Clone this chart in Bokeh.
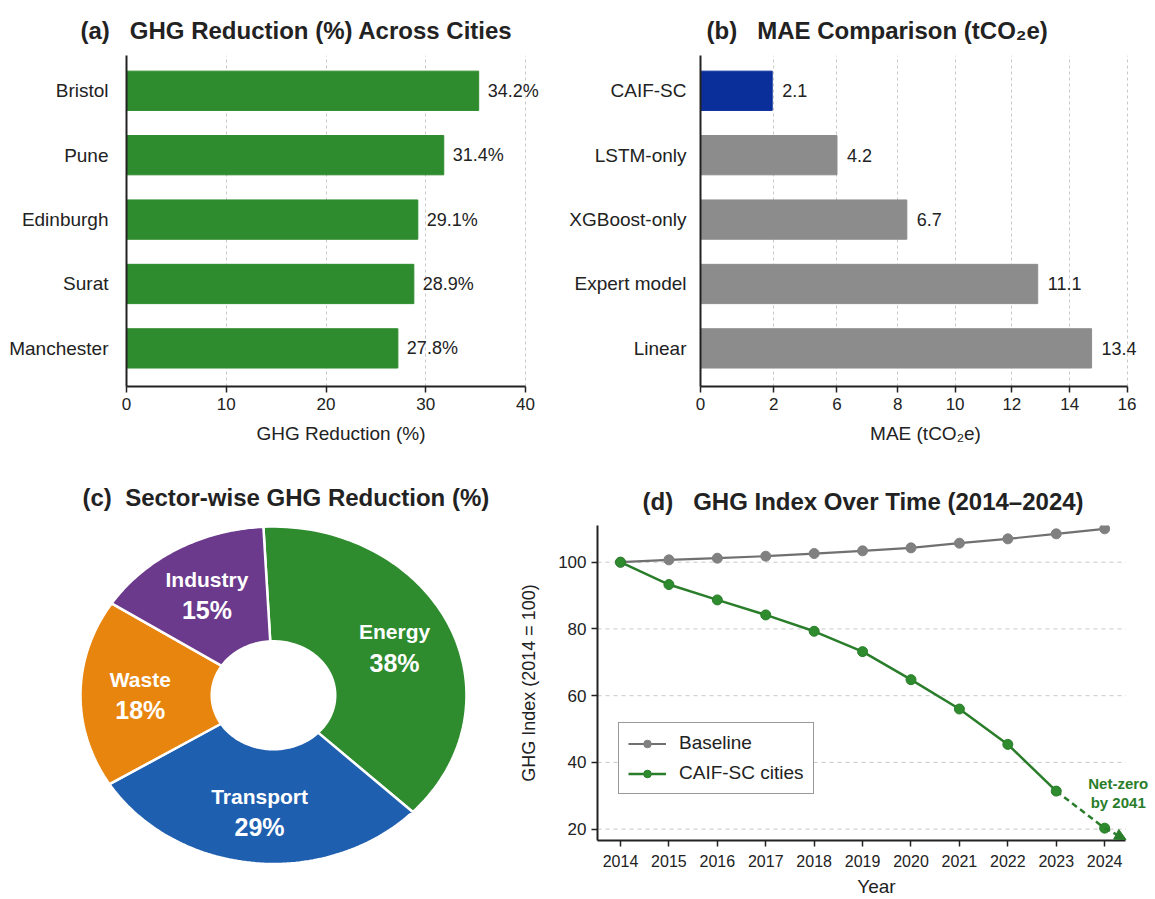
import numpy as np
from bokeh.plotting import figure
from bokeh.layouts import column, row
from bokeh.models import (ColumnDataSource, LabelSet, FixedTicker, Legend, LegendItem,
                          Arrow, NormalHead, Label)
from bokeh.core.properties import value
from bokeh.embed import file_html
from bokeh.resources import INLINE

FONT = "Liberation Sans"
DARK = "#222222"
GRID = "#c8c8c8"
NB = "\u00a0"

# ---------------- data ----------------
# (a) GHG reduction across cities
cities = ["Bristol", "Pune", "Edinburgh", "Surat", "Manchester"]
city_bar = [35.3, 31.8, 29.2, 28.8, 27.2]
city_label = ["34.2%", "31.4%", "29.1%", "28.9%", "27.8%"]
city_ticks = [0, 10, 20, 30, 40]

# (b) MAE comparison (bar ends and ticks as drawn on the original axis)
models = ["CAIF-SC", "LSTM-only", "XGBoost-only", "Expert model", "Linear"]
mae_bar = [2.69, 5.12, 7.74, 12.65, 14.67]
mae_label = ["2.1", "4.2", "6.7", "11.1", "13.4"]
mae_tick_pos = [0, 2.75, 5.12, 7.40, 9.55, 11.68, 13.85, 16]
mae_tick_label = ["0", "2", "6", "8", "10", "12", "14", "16"]
mae_colors = ["#0b2f9a", "#8c8c8c", "#8c8c8c", "#8c8c8c", "#8c8c8c"]

# (c) sector shares
sectors = ["Energy", "Transport", "Waste", "Industry"]
sector_share = [38, 29, 18, 15]
sector_colors = ["#2e8b2e", "#1f5fb0", "#e8850e", "#6b3a8c"]

# (d) GHG index over time
years = [2014, 2015, 2016, 2017, 2018, 2019, 2020, 2021, 2022, 2023, 2024]
baseline = [100, 100.7, 101.2, 101.8, 102.6, 103.4, 104.3, 105.7, 107.0, 108.5, 110.0]
caif = [100, 93.3, 88.7, 84.2, 79.3, 73.2, 64.8, 56.0, 45.4, 31.4, 20.3]
proj_end = (2024.44, 16.9)
index_ticks = [20, 40, 60, 80, 100]


def style_axes(p):
    p.outline_line_color = None
    p.background_fill_color = "white"
    p.border_fill_color = "white"
    for ax in p.axis:
        ax.axis_line_color = DARK
        ax.axis_line_width = 2
        ax.major_tick_line_color = DARK
        ax.major_tick_line_width = 1.5
        ax.major_tick_out = 6
        ax.major_tick_in = 0
        ax.minor_tick_line_color = None
        ax.major_label_text_font = FONT
        ax.major_label_text_color = DARK
        ax.major_label_text_font_size = "17px"
        ax.axis_label_text_font = FONT
        ax.axis_label_text_color = DARK
        ax.axis_label_text_font_size = "19px"
        ax.axis_label_text_font_style = "normal"


def style_title(p, offset, standoff):
    p.title.text_font = FONT
    p.title.text_font_size = "24px"
    p.title.text_font_style = "bold"
    p.title.text_color = DARK
    p.title.align = "left"
    p.title.offset = offset
    p.title.standoff = standoff


# ---------------- (a) ----------------
ya = [len(cities) - 1 - i for i in range(len(cities))]
src_a = ColumnDataSource(dict(y=ya, right=city_bar, lab=city_label))
pa = figure(width=560, height=460, x_range=(0, 43.0), y_range=(-0.592, 4.548),
            output_backend="svg", toolbar_location=None,
            title="(a)" + NB * 3 + "GHG Reduction (%) Across Cities",
            min_border_left=126, min_border_right=5, min_border_top=55, min_border_bottom=74)
pa.hbar(y="y", right="right", left=0, height=0.61, source=src_a,
        fill_color="#2e8b2e", line_color="#2e8b2e")
pa.add_layout(LabelSet(x="right", y="y", text="lab", source=src_a, x_offset=9,
                       text_baseline="middle", text_align="left", text_font=value(FONT),
                       text_font_size="18px", text_color=DARK))
pa.xaxis.ticker = FixedTicker(ticks=city_ticks)
pa.xaxis.bounds = (city_ticks[0], city_ticks[-1])
pa.yaxis.ticker = FixedTicker(ticks=ya)
pa.yaxis.major_label_overrides = {y: c for y, c in zip(ya, cities)}
pa.xaxis.axis_label = "GHG Reduction (%)"
style_axes(pa)
pa.yaxis.major_tick_line_color = None
pa.yaxis.major_label_text_font_size = "19px"
pa.yaxis.major_label_standoff = 12
pa.xaxis.axis_label_standoff = 10
pa.xgrid.grid_line_color = GRID
pa.xgrid.grid_line_dash = "3 3"
pa.ygrid.grid_line_color = None
style_title(pa, -46, 23)

# ---------------- (b) ----------------
yb = [len(models) - 1 - i for i in range(len(models))]
src_b = ColumnDataSource(dict(y=yb, right=mae_bar, lab=mae_label, color=mae_colors))
pb = figure(width=595, height=460, x_range=(0, 16.88), y_range=(-0.592, 4.548),
            output_backend="svg", toolbar_location=None,
            title="(b)" + NB * 3 + "MAE Comparison (tCO\u2082e)",
            min_border_left=140, min_border_right=5, min_border_top=55, min_border_bottom=73)
pb.hbar(y="y", right="right", left=0, height=0.61, source=src_b,
        fill_color="color", line_color="color")
pb.add_layout(LabelSet(x="right", y="y", text="lab", source=src_b, x_offset=10,
                       text_baseline="middle", text_align="left", text_font=value(FONT),
                       text_font_size="18px", text_color=DARK))
pb.xaxis.ticker = FixedTicker(ticks=mae_tick_pos)
pb.xaxis.bounds = (mae_tick_pos[0], mae_tick_pos[-1])
pb.xaxis.major_label_overrides = {t: l for t, l in zip(mae_tick_pos, mae_tick_label)}
pb.yaxis.ticker = FixedTicker(ticks=yb)
pb.yaxis.major_label_overrides = {y: m for y, m in zip(yb, models)}
pb.xaxis.axis_label = "MAE (tCO\u2082e)"
style_axes(pb)
pb.yaxis.major_tick_line_color = None
pb.yaxis.major_label_text_font_size = "19px"
pb.yaxis.major_label_standoff = 8
pb.xaxis.axis_label_standoff = 10
pb.xgrid.grid_line_color = GRID
pb.xgrid.grid_line_dash = "3 3"
pb.ygrid.grid_line_color = None
style_title(pb, 6, 23)

# ---------------- (c) ----------------
pc = figure(width=515, height=439, x_range=(-1.4145, 1.254), y_range=(-1.2105, 1.036),
            output_backend="svg", toolbar_location=None,
            title="(c)" + NB * 2 + "Sector-wise GHG Reduction (%)",
            x_axis_location=None, y_axis_location=None,
            min_border_left=0, min_border_right=0, min_border_top=60, min_border_bottom=0)
pc.grid.grid_line_color = None
pc.outline_line_color = None
R_OUT, R_IN, R_LAB = 1.0, 0.32, 0.69
start = np.deg2rad(93.0)
total = float(sum(sector_share))
xs, ys, lx, ly = [], [], [], []
a0 = start
for share in sector_share:
    a1 = a0 - 2 * np.pi * share / total
    th = np.linspace(a0, a1, 80)
    xs.append(list(np.concatenate([R_OUT * np.cos(th), R_IN * np.cos(th[::-1])])))
    ys.append(list(np.concatenate([R_OUT * np.sin(th), R_IN * np.sin(th[::-1])])))
    mid = (a0 + a1) / 2
    lx.append(R_LAB * np.cos(mid))
    ly.append(R_LAB * np.sin(mid))
    a0 = a1
pc.patches(xs, ys, fill_color=sector_colors, line_color="white", line_width=2.5)
src_c = ColumnDataSource(dict(x=lx, y=ly, name=sectors, pct=[f"{s}%" for s in sector_share]))
pc.text(x="x", y="y", text="name", source=src_c, y_offset=-15, text_align="center",
        text_baseline="middle", text_font=value(FONT), text_font_style="bold",
        text_font_size="21px", text_color="white")
pc.text(x="x", y="y", text="pct", source=src_c, y_offset=16, text_align="center",
        text_baseline="middle", text_font=value(FONT), text_font_style="bold",
        text_font_size="25px", text_color="white")
style_title(pc, 82, 20)

# ---------------- (d) ----------------
GREEN_L = "#2a7d2a"
GREEN_M = "#2e8b2e"
GRAY_L = "#707070"
GRAY_M = "#808080"
x_lo, x_hi = 2013.525, 2024.44
pd_ = figure(width=640, height=439, x_range=(x_lo, 2025.05), y_range=(16.6, 111),
             output_backend="svg", toolbar_location=None,
             title="(d)" + NB * 3 + "GHG Index Over Time (2014\u20132024)",
             min_border_left=82, min_border_right=0, min_border_top=65, min_border_bottom=57)
pd_.segment(x0=[x_lo] * len(index_ticks), y0=index_ticks, x1=[x_hi] * len(index_ticks),
            y1=index_ticks, line_color=GRID, line_width=1, line_dash="4 4", level="underlay")
bl_line = pd_.line(years, baseline, line_color=GRAY_L, line_width=2.2)
bl_pts = pd_.scatter(years, baseline, size=10, fill_color=GRAY_M, line_color=GRAY_M)
cf_line = pd_.line(years[:-1], caif[:-1], line_color=GREEN_L, line_width=2.5)
pd_.line(years[-2:], caif[-2:], line_color=GREEN_L, line_width=2.5, line_dash="6 4")
cf_pts = pd_.scatter(years, caif, size=10, fill_color=GREEN_M, line_color=GREEN_L)
pd_.add_layout(Arrow(end=NormalHead(size=11, fill_color=GREEN_L, line_color=GREEN_L),
                     x_start=years[-1], y_start=caif[-1], x_end=proj_end[0], y_end=proj_end[1],
                     line_color=GREEN_L, line_width=2.5, line_dash="6 4"))
pd_.add_layout(Label(x=2024.28, y=33.7, text="Net-zero", text_align="center",
                     text_baseline="middle", text_font=FONT, text_font_style="bold",
                     text_font_size="15px", text_color=GREEN_L))
pd_.add_layout(Label(x=2024.28, y=28.0, text="by 2041", text_align="center",
                     text_baseline="middle", text_font=FONT, text_font_style="bold",
                     text_font_size="15px", text_color=GREEN_L))
pd_.xaxis.ticker = FixedTicker(ticks=years)
pd_.xaxis.bounds = (x_lo, x_hi)
pd_.yaxis.ticker = FixedTicker(ticks=index_ticks)
pd_.xaxis.axis_label = "Year"
pd_.yaxis.axis_label = "GHG Index (2014 = 100)"
style_axes(pd_)
pd_.xaxis.major_label_text_font_size = "16px"
pd_.xaxis.major_label_standoff = 8
pd_.yaxis.axis_label_text_font_size = "18px"
pd_.yaxis.axis_label_standoff = 16
pd_.xaxis.axis_label_standoff = 6
pd_.grid.grid_line_color = None
legend = Legend(items=[LegendItem(label="Baseline", renderers=[bl_line, bl_pts]),
                       LegendItem(label="CAIF-SC cities", renderers=[cf_line, cf_pts])],
                location=(21, 46), label_text_font=FONT, label_text_font_size="19px",
                label_text_color=DARK, glyph_width=38, glyph_height=19, spacing=8,
                padding=9, label_standoff=13, border_line_color="#333333",
                border_line_width=1.2, background_fill_alpha=1.0)
pd_.add_layout(legend)
style_title(pd_, 45, 22)

layout = column(row(pa, pb), row(column(pc), column(pd_)))
open("out.html", "w").write(file_html(layout, INLINE))
